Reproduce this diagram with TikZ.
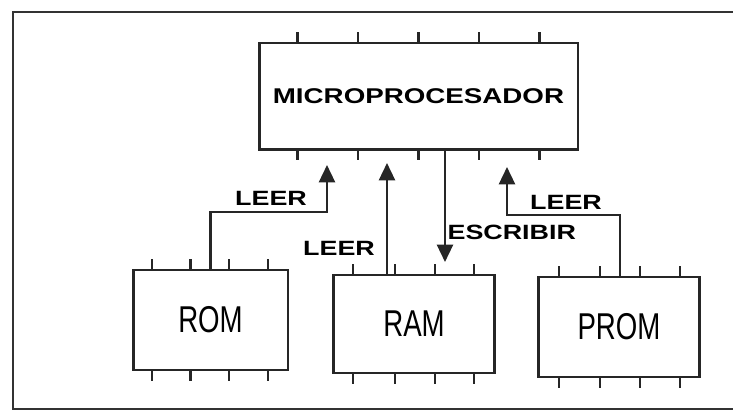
\documentclass[tikz,border=0pt]{standalone}
\usepackage{fontspec}
\setmainfont{Liberation Sans}
\newfontfamily\widefont{Liberation Sans}[FakeStretch=1.3]
\newfontfamily\narrowfont{Liberation Sans}[FakeStretch=0.74]
\usetikzlibrary{arrows.meta, calc}
\tikzset{
    chip/.style={rectangle, draw=black!85, line width=2pt, fill=white,
        inner sep=0pt, outer sep=0pt},
    memtxt/.style={font=\narrowfont\fontsize{28}{30}\selectfont},
    cputxt/.style={font=\widefont\bfseries\fontsize{16}{18}\selectfont},
    arr/.style={-{Triangle[width=12pt,length=13pt]}, line width=1.8pt, draw=black!85},
    lbl/.style={font=\widefont\bfseries\fontsize{15.5}{17}\selectfont, inner sep=1pt},
    pin/.style={line width=1.7pt, draw=black!85},
    frame/.style={line width=1.6pt, draw=black!80}
}
\newcommand{\chippins}[2]{%
    \foreach \f in {#2} {
        \draw[pin] ($(#1.north west)!\f!(#1.north east)$) -- ++(0,8pt);
        \draw[pin] ($(#1.south west)!\f!(#1.south east)$) -- ++(0,-8pt);
    }
}

\begin{document}
\begin{tikzpicture}[x=0.75pt, y=-0.75pt]
%% LAYOUT (pixel grid, y down):
%% y= 97: micro(418,97)
%% y=325: rom(210,320)  ram(414,324)  prom(619,327)
\useasboundingbox (0,0) rectangle (733,410);
\draw[frame] (740,12) -- (13,12) -- (13,409) -- (740,409);

\node[chip, minimum width=239pt, minimum height=80pt, cputxt] (micro) at (418.5,96.5) {MICROPROCESADOR};
\node[chip, minimum width=116pt, minimum height=75pt, memtxt] (rom)  at (210.5,320) {ROM};
\node[chip, minimum width=121pt, minimum height=73.5pt, memtxt] (ram)  at (414,324) {RAM};
\node[chip, minimum width=121pt, minimum height=75pt, memtxt] (prom) at (619,327) {PROM};

%% ── PINS ────────────────────────────────────────────────────────
\chippins{micro}{0.12,0.31,0.5,0.69,0.88}
\chippins{rom}{0.12,0.37,0.62,0.87}
\chippins{ram}{0.12,0.38,0.63,0.87}
\chippins{prom}{0.13,0.38,0.63,0.88}

%% ── ROM: LEER ───────────────────────────────────────────────────
\coordinate (romtip) at (327,165);
\draw[arr] (rom.north) |- (romtip |- 0,212) -- (romtip);
\node[lbl] (romlbl) at (271,198) {LEER};

%% ── RAM: LEER / ESCRIBIR ────────────────────────────────────────
\coordinate (ramtip) at (387,163);
\draw[arr] (ramtip |- ram.north) -- (ramtip);
\node[lbl] (ramlbl) at (339,248) {LEER};

\coordinate (escrtip) at (445,262);
\draw[arr] (escrtip |- micro.south) -- (escrtip);
\node[lbl, anchor=west] (escrlbl) at (446,232) {ESCRIBIR};

%% ── PROM: LEER ──────────────────────────────────────────────────
\coordinate (promtip) at (507,167);
\draw[arr] (prom.north -| 620,0) |- (promtip |- 0,215) -- (promtip);
\node[lbl] (promlbl) at (566,202) {LEER};

\end{tikzpicture}
\end{document}
